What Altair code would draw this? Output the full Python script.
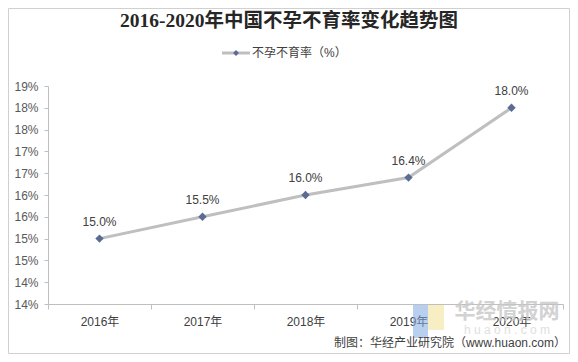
import json
import altair as alt
import pandas as pd

# ---- data ----
years = ["2016年", "2017年", "2018年", "2019年", "2020年"]
rates = [15.0, 15.5, 16.0, 16.4, 18.0]
y_tick_values = [13.5, 14.0, 14.5, 15.0, 15.5, 16.0, 16.5, 17.0, 17.5, 18.0, 18.5]
y_tick_labels = ["14%", "14%", "15%", "15%", "16%", "16%", "17%", "17%", "18%", "18%", "19%"]
title_text = "2016-2020年中国不孕不育率变化趋势图"
legend_text = "不孕不育率（%）"
footer_text = "制图：华经产业研究院（www.huaon.com）"
watermark_cn = "华经情报网"
watermark_en = "h u a o n . c o m"

df = pd.DataFrame({"year": years, "rate": rates})

LATIN = "Liberation Sans, Noto Sans CJK SC"
CJK = "Noto Sans CJK SC"

label_expr = f"{json.dumps(y_tick_labels)}[indexof({json.dumps(y_tick_values)}, datum.value)]"

x_enc = alt.X(
    "year:N", sort=years, title=None,
    scale=alt.Scale(type="band", paddingInner=0, paddingOuter=0),
    axis=alt.Axis(tickBand="extent", labelAngle=0, domainColor="#BFBFBF", tickColor="#BFBFBF",
                  tickSize=5, labelPadding=7, labelFont=LATIN, labelFontSize=12,
                  labelColor="#404040", grid=False),
)
y_enc = alt.Y(
    "rate:Q", title=None,
    scale=alt.Scale(domain=[y_tick_values[0], y_tick_values[-1]], nice=False, zero=False),
    axis=alt.Axis(values=y_tick_values, labelExpr=label_expr, domainColor="#BFBFBF",
                  tickColor="#BFBFBF", tickSize=4, labelPadding=6, labelFont=LATIN,
                  labelFontSize=12, labelColor="#595959", grid=False),
)

base = alt.Chart(df)
line = base.mark_line(color="#BFBFBF", strokeWidth=3).encode(x=x_enc, y=y_enc)
pts = base.mark_point(shape="diamond", filled=True, size=70, color="#5B6C94", opacity=1).encode(x=x_enc, y=y_enc)
labels = base.mark_text(dy=-17, fontSize=12, color="#404040", font=LATIN).transform_calculate(
    lbl="format(datum.rate, '.1f') + '%'"
).encode(x=x_enc, y=y_enc, text="lbl:N")

one = pd.DataFrame({"t": [title_text], "l": [legend_text], "f": [footer_text],
                    "w1": [watermark_cn], "w2": [watermark_en]})
deco = alt.Chart(one)

border = deco.mark_rect(fillOpacity=0, stroke="#D0D0D0", strokeWidth=1).encode(
    x=alt.value(-39.5), x2=alt.value(521.5), y=alt.value(-77.5), y2=alt.value(267.5))
title = deco.mark_text(font="Liberation Serif, Noto Sans CJK SC", fontSize=19.5, fontWeight="bold",
                       color="#262626", align="center", baseline="middle").encode(
    x=alt.value(241), y=alt.value(-65), text="t:N")
leg_rule = deco.mark_rule(color="#BFBFBF", strokeWidth=3).encode(
    x=alt.value(174), x2=alt.value(202), y=alt.value(-33))
leg_pt = deco.mark_point(shape="diamond", filled=True, size=35, color="#5B6C94", opacity=1).encode(
    x=alt.value(188), y=alt.value(-33))
leg_txt = deco.mark_text(font=LATIN, fontSize=12, color="#404040", align="left", baseline="middle").encode(
    x=alt.value(204), y=alt.value(-33), text="l:N")
wm_blue = deco.mark_rect(color="#7FA7E3", opacity=0.55).encode(
    x=alt.value(365), x2=alt.value(380), y=alt.value(219), y2=alt.value(252))
wm_yellow = deco.mark_rect(color="#F3E39B", opacity=0.6).encode(
    x=alt.value(380), x2=alt.value(396), y=alt.value(219), y2=alt.value(244))
wm1 = deco.mark_text(font=CJK, fontSize=21, fontWeight="bold", color="#C8C8C8", opacity=0.8,
                     align="center", baseline="middle").encode(
    x=alt.value(459), y=alt.value(226), text="w1:N")
wm2 = deco.mark_text(font=LATIN, fontSize=12, color="#D8D8D8", opacity=0.8,
                     align="center", baseline="middle").encode(
    x=alt.value(459), y=alt.value(244), text="w2:N")
footer = deco.mark_text(font=LATIN, fontSize=12, color="#404040", align="right", baseline="middle").encode(
    x=alt.value(518), y=alt.value(257), text="f:N")

chart = alt.layer(
    border, wm_blue, wm_yellow, wm1, wm2, line, pts, labels, title, leg_rule, leg_pt, leg_txt, footer
).properties(
    width=515, height=218,
    padding={"left": 40, "top": 78, "right": 7, "bottom": 50},
    autosize=alt.AutoSizeParams(type="none"),
).configure_view(stroke=None)

chart.save("out.html", embed_options={"renderer": "svg", "actions": False})
